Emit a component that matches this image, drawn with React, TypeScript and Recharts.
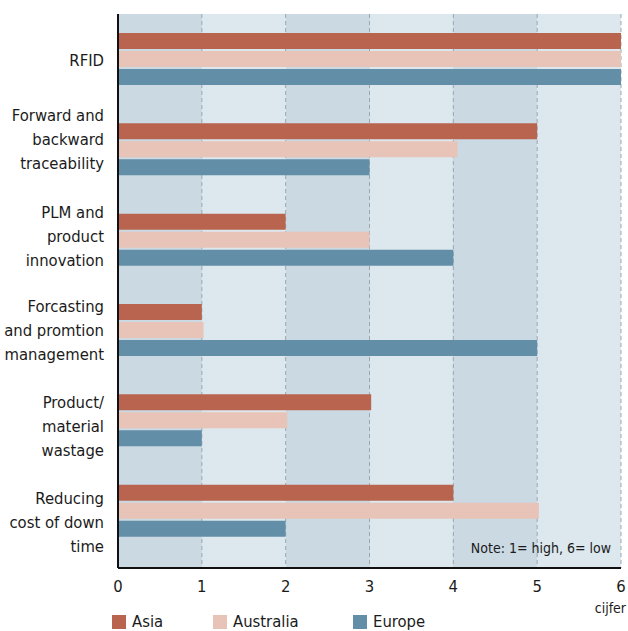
import { BarChart, Bar, XAxis, YAxis, CartesianGrid } from 'recharts'

const categories = [
  'RFID',
  'Forward and\nbackward\ntraceability',
  'PLM and\nproduct\ninnovation',
  'Forcasting\nand promtion\nmanagement',
  'Product/\nmaterial\nwastage',
  'Reducing\ncost of down\ntime',
]
const asia = [6, 5, 2, 1, 3.02, 4]
const australia = [6, 4.05, 3, 1.02, 2.02, 5.02]
const europe = [6, 3, 4, 5, 1, 2]
const xTicks = [0, 1, 2, 3, 4, 5, 6]

const FONT = '"DejaVu Sans Condensed", "DejaVu Sans", sans-serif'
const FS = 16.5
const COLORS = { asia: '#b8644f', australia: '#e8c3b7', europe: '#628ea8' }
const BAND_DARK = '#cbd9e3'
const BAND_LIGHT = '#dce7ee'

// small nudges so the label blocks sit where the original has them
const labelShift = [1, -10, -4, 0, 6, 11]

const data = categories.map((name, i) => ({
  name, asia: asia[i], australia: australia[i], europe: europe[i],
}))

function CategoryTick({ x, y, payload, index }: any) {
  const lines = String(payload.value).split('\n')
  const lh = 24
  const top = y - ((lines.length - 1) * lh) / 2 + (labelShift[index] || 0)
  return (
    <text x={x} y={top} textAnchor="end" fill="#1b1b1b" fontSize={FS} fontFamily={FONT}>
      {lines.map((l, k) => (
        <tspan key={k} x={x} y={top + k * lh} dy="0.36em">{l}</tspan>
      ))}
    </text>
  )
}

const legendItems = [
  { label: 'Asia', color: COLORS.asia, left: 112 },
  { label: 'Australia', color: COLORS.australia, left: 213 },
  { label: 'Europe', color: COLORS.europe, left: 353 },
]

export default function App() {
  return (
    <div style={{ position: 'absolute', left: 0, top: 0, width: 628, height: 631, background: '#fff', fontFamily: FONT }}>
      <BarChart
        layout="vertical"
        width={628}
        height={631}
        data={data}
        margin={{ top: 14, right: 7, left: 0, bottom: 33 }}
        barSize={16}
        barGap={2}
      >
        <CartesianGrid
          horizontal={false}
          stroke="#9aa8b3"
          strokeDasharray="4 3"
          verticalFill={[BAND_DARK, BAND_LIGHT]}
          fillOpacity={1}
        />
        <XAxis
          type="number"
          domain={[0, 6]}
          ticks={xTicks}
          height={30}
          axisLine={{ stroke: '#111', strokeWidth: 2 }}
          tickLine={false}
          tick={{ fontSize: FS, fill: '#1b1b1b', fontFamily: FONT }}
          tickMargin={6}
        />
        <YAxis
          type="category"
          dataKey="name"
          width={118}
          axisLine={{ stroke: '#111', strokeWidth: 2 }}
          tickLine={false}
          tick={<CategoryTick />}
          tickMargin={8}
          interval={0}
          padding={{ top: 0, bottom: 12 }}
        />
        <Bar dataKey="asia" fill={COLORS.asia} isAnimationActive={false} />
        <Bar dataKey="australia" fill={COLORS.australia} isAnimationActive={false} />
        <Bar dataKey="europe" fill={COLORS.europe} isAnimationActive={false} />
      </BarChart>

      <div style={{ position: 'absolute', right: 17, top: 540, fontSize: 14, color: '#1b1b1b', whiteSpace: 'nowrap' }}>
        Note: 1= high, 6= low
      </div>
      <div style={{ position: 'absolute', right: 2, top: 600, fontSize: 14, color: '#1b1b1b' }}>
        cijfer
      </div>
      {legendItems.map(it => (
        <div key={it.label} style={{ position: 'absolute', left: it.left, top: 612, display: 'flex', alignItems: 'center', fontSize: FS, color: '#1b1b1b' }}>
          <span style={{ display: 'inline-block', width: 14, height: 14, background: it.color, marginRight: 6 }} />
          {it.label}
        </div>
      ))}
    </div>
  )
}
